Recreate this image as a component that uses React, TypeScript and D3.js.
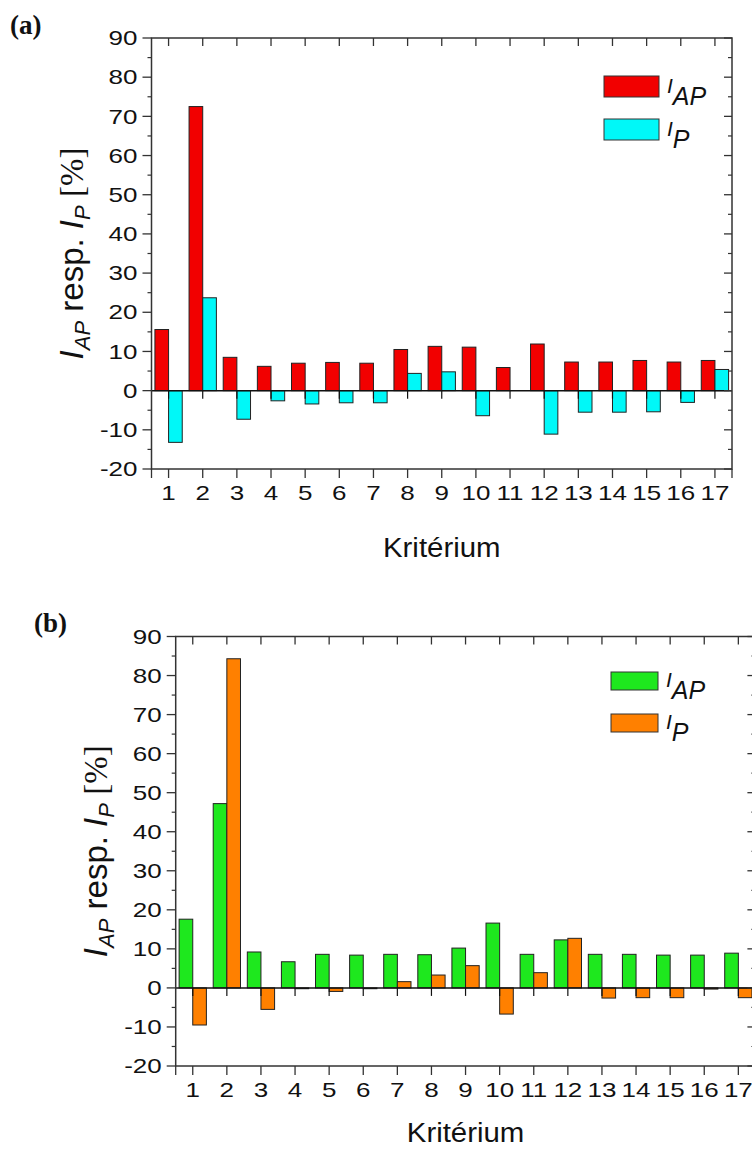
import React from "react";
import * as d3 from "d3";

const categories = [1, 2, 3, 4, 5, 6, 7, 8, 9, 10, 11, 12, 13, 14, 15, 16, 17];
const yTicks = [-20, -10, 0, 10, 20, 30, 40, 50, 60, 70, 80, 90];
const yMinor = [-15, -5, 5, 15, 25, 35, 45, 55, 65, 75, 85];

const aIAP = [15.6, 72.5, 8.5, 6.2, 7.0, 7.2, 7.0, 10.5, 11.3, 11.1, 5.9, 11.9, 7.3, 7.3, 7.7, 7.3, 7.7];
const aIP = [-13.2, 23.7, -7.3, -2.6, -3.4, -3.1, -3.1, 4.4, 4.8, -6.4, 0, -11.1, -5.5, -5.5, -5.4, -3.0, 5.4];

const bIAP = [17.6, 47.2, 9.2, 6.7, 8.6, 8.4, 8.6, 8.5, 10.2, 16.6, 8.6, 12.3, 8.6, 8.6, 8.4, 8.4, 8.9];
const bIP = [-9.5, 84.3, -5.5, -0.2, -0.9, -0.2, 1.6, 3.3, 5.7, -6.7, 3.9, 12.7, -2.6, -2.5, -2.5, -0.3, -2.5];

const FONT = "'Liberation Sans', Arial, Helvetica, sans-serif";
const SERIF = "'Liberation Serif', 'Times New Roman', serif";
const AXIS = "#333";
const TICK_FS = 20;
const TICK_SX = 1.3;

type PanelProps = {
  label: string;
  labelX: number;
  labelY: number;
  left: number;
  right: number;
  top: number;
  bottom: number;
  xTitleDy: number;
  ap: number[];
  p: number[];
  apColor: string;
  pColor: string;
  legendX: number;
  legendY: number;
  legendW: number;
  legendH: number;
  legendGap: number;
};

function Panel(props: PanelProps) {
  const { left, right, top, bottom, ap, p, apColor, pColor } = props;
  const x = d3.scaleLinear().domain([0.5, 17.5]).range([left, right]);
  const y = d3.scaleLinear().domain([-20, 90]).range([bottom, top]);
  const bw = x(0.4) - x(0);
  const y0 = y(0);
  const cx = (left + right) / 2;
  const cy = (top + bottom) / 2;

  return (
    <g>
      <text x={props.labelX} y={props.labelY} fontFamily={SERIF} fontWeight="bold" fontSize={27} fill="#111">
        {props.label}
      </text>
      {/* bars */}
      {categories.map((c, i) => (
        <g key={c}>
          <rect
            x={x(c) - bw}
            y={Math.min(y(ap[i]), y0)}
            width={bw}
            height={Math.abs(y(ap[i]) - y0)}
            fill={apColor}
            stroke="#222"
            strokeWidth={1}
          />
          {p[i] !== 0 && (
            <rect
              x={x(c)}
              y={Math.min(y(p[i]), y0)}
              width={bw}
              height={Math.max(Math.abs(y(p[i]) - y0), 0.8)}
              fill={pColor}
              stroke="#222"
              strokeWidth={1}
            />
          )}
        </g>
      ))}
      {/* zero line with ticks */}
      <line x1={left} x2={right} y1={y0} y2={y0} stroke="#111" strokeWidth={1.5} />
      {categories.map((c) => (
        <line key={"z" + c} x1={x(c)} x2={x(c)} y1={y0} y2={y0 + 8} stroke="#111" strokeWidth={1.2} />
      ))}
      {/* frame */}
      <rect x={left} y={top} width={right - left} height={bottom - top} fill="none" stroke={AXIS} strokeWidth={1.5} />
      {/* left axis ticks */}
      {yTicks.map((t) => (
        <g key={"l" + t}>
          <line x1={left - 9} x2={left} y1={y(t)} y2={y(t)} stroke={AXIS} strokeWidth={1.3} />
          <text
            transform={`translate(${left - 14},${y(t)}) scale(${TICK_SX},1)`}
            dy="0.36em"
            textAnchor="end"
            fontFamily={FONT}
            fontSize={TICK_FS}
            fill="#111"
          >
            {t}
          </text>
          <line x1={right - 8} x2={right} y1={y(t)} y2={y(t)} stroke={AXIS} strokeWidth={1.3} />
        </g>
      ))}
      {yMinor.map((t) => (
        <g key={"m" + t}>
          <line x1={left - 4} x2={left} y1={y(t)} y2={y(t)} stroke={AXIS} strokeWidth={1.2} />
          <line x1={right - 4} x2={right} y1={y(t)} y2={y(t)} stroke={AXIS} strokeWidth={1.2} />
        </g>
      ))}
      {/* top & bottom ticks */}
      {categories.map((c) => (
        <g key={"b" + c}>
          <line x1={x(c)} x2={x(c)} y1={top} y2={top + 8} stroke={AXIS} strokeWidth={1.3} />
          <line x1={x(c)} x2={x(c)} y1={bottom} y2={bottom + 9} stroke={AXIS} strokeWidth={1.3} />
          <text
            transform={`translate(${x(c)},${bottom + 31}) scale(${TICK_SX},1)`}
            textAnchor="middle"
            fontFamily={FONT}
            fontSize={TICK_FS}
            fill="#111"
          >
            {c}
          </text>
        </g>
      ))}
      <line x1={left} x2={left} y1={bottom} y2={bottom + 9} stroke={AXIS} strokeWidth={1.3} />
      <line x1={right} x2={right} y1={bottom} y2={bottom + 9} stroke={AXIS} strokeWidth={1.3} />
      {/* x label */}
      <text transform={`translate(${cx},${bottom + props.xTitleDy}) scale(1.05,1)`} textAnchor="middle" fontFamily={FONT} fontSize={28} fill="#111">
        Kritérium
      </text>
      {/* y label */}
      <text transform={`translate(${left - 69},${cy}) rotate(-90)`} textAnchor="middle" fontFamily={FONT} fontSize={33} fill="#111">
        <tspan fontStyle="italic">I</tspan>
        <tspan fontStyle="italic" fontSize={22} dy={7}>AP</tspan>
        <tspan dy={-7}> resp. </tspan>
        <tspan fontStyle="italic">I</tspan>
        <tspan fontStyle="italic" fontSize={22} dy={7}>P</tspan>
        <tspan dy={-7} fontFamily={SERIF}> [%]</tspan>
      </text>
      {/* legend */}
      {[
        { color: apColor, sub: "AP" },
        { color: pColor, sub: "P" },
      ].map((it, k) => {
        const ry = props.legendY + k * props.legendGap;
        const tx = props.legendX + props.legendW + 8;
        const mid = ry + props.legendH / 2;
        return (
          <g key={"lg" + k}>
            <rect x={props.legendX} y={ry} width={props.legendW} height={props.legendH} fill={it.color} stroke="#333" strokeWidth={1} />
            <text fontFamily={FONT} fontStyle="italic" fill="#111">
              <tspan x={tx} y={mid + 6} fontSize={21}>I</tspan>
              <tspan y={mid + 18} fontSize={25}>{it.sub}</tspan>
            </text>
          </g>
        );
      })}
    </g>
  );
}

export default function App() {
  return (
    <svg width={752} height={1157} style={{ position: "absolute", left: 0, top: 0, background: "#fff" }}>
      <rect x={0} y={0} width={752} height={1157} fill="#fff" />
      <Panel
        label="(a)"
        labelX={10}
        labelY={34}
        left={151.5}
        right={732}
        top={38}
        bottom={469}
        xTitleDy={88}
        ap={aIAP}
        p={aIP}
        apColor="#f20000"
        pColor="#00f8f8"
        legendX={604}
        legendY={76}
        legendW={55}
        legendH={21}
        legendGap={43}
      />
      <Panel
        label="(b)"
        labelX={34}
        labelY={632}
        left={175.7}
        right={755.4}
        top={636.5}
        bottom={1066}
        xTitleDy={76}
        ap={bIAP}
        p={bIP}
        apColor="#1ee81e"
        pColor="#ff8000"
        legendX={611}
        legendY={672}
        legendW={47}
        legendH={18}
        legendGap={42}
      />
    </svg>
  );
}
